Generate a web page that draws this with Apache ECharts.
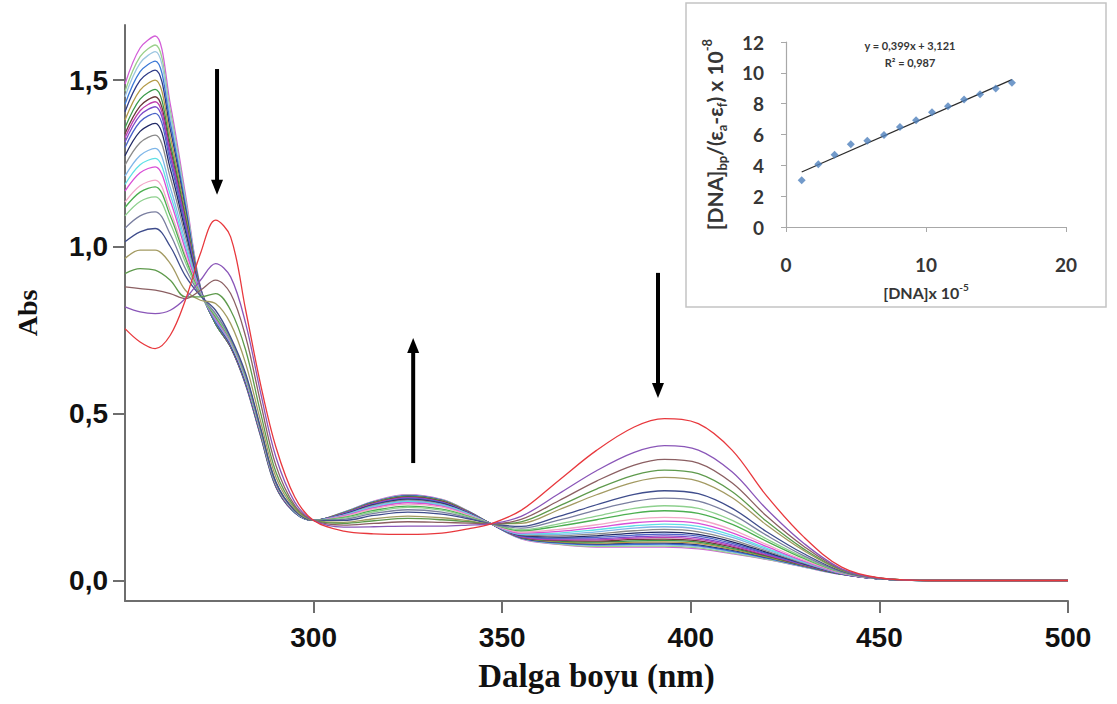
<!DOCTYPE html>
<html>
<head>
<meta charset="utf-8">
<title>UV-Vis titration with DNA</title>
<script src="https://cdn.jsdelivr.net/npm/echarts@6/dist/echarts.min.js"></script>
<style>
  html, body { margin: 0; padding: 0; background: #ffffff; }
  #chart { width: 1117px; height: 704px; }
</style>
</head>
<body>
<div id="chart"></div>
<script>
// Wavelengths (nm) shared by every spectrum
const wavelengths = [250, 254, 258, 262, 266, 270, 274, 278, 282, 286, 290, 295, 300,
  308, 316, 325, 334, 341, 347,
  355, 365, 375, 385, 393, 402, 411, 420, 430, 440, 450, 465, 500];

// Absorbance spectra: first row = free compound, following rows = increasing DNA
const absorbance = [
  [0.755, 0.715, 0.695, 0.735, 0.84, 0.98, 1.08, 1.03, 0.81, 0.585, 0.40, 0.25, 0.18, 0.148, 0.140, 0.138, 0.142, 0.155, 0.17, 0.210, 0.300, 0.390, 0.460, 0.485, 0.470, 0.390, 0.255, 0.130, 0.040, 0.008, 0, 0],
  [0.82, 0.805, 0.80, 0.81, 0.845, 0.90, 0.95, 0.91, 0.77, 0.56, 0.37, 0.235, 0.18, 0.160, 0.161, 0.163, 0.163, 0.166, 0.17, 0.192, 0.260, 0.329, 0.384, 0.404, 0.391, 0.325, 0.215, 0.111, 0.035, 0.007, 0, 0],
  [0.88, 0.875, 0.87, 0.86, 0.845, 0.87, 0.90, 0.86, 0.73, 0.53, 0.345, 0.225, 0.18, 0.166, 0.171, 0.176, 0.174, 0.172, 0.17, 0.183, 0.239, 0.298, 0.346, 0.363, 0.352, 0.292, 0.194, 0.102, 0.033, 0.007, 0, 0],
  [0.92, 0.935, 0.93, 0.90, 0.85, 0.85, 0.86, 0.81, 0.69, 0.50, 0.325, 0.22, 0.18, 0.171, 0.179, 0.186, 0.182, 0.176, 0.17, 0.176, 0.223, 0.274, 0.316, 0.331, 0.320, 0.266, 0.178, 0.094, 0.031, 0.007, 0, 0],
  [0.965, 0.99, 0.99, 0.95, 0.87, 0.84, 0.83, 0.77, 0.65, 0.475, 0.31, 0.215, 0.18, 0.174, 0.185, 0.193, 0.188, 0.179, 0.17, 0.171, 0.212, 0.257, 0.295, 0.309, 0.298, 0.248, 0.167, 0.089, 0.030, 0.007, 0, 0],
  [1.015, 1.045, 1.055, 1.001, 0.913, 0.853, 0.81, 0.73, 0.62, 0.455, 0.295, 0.21, 0.18, 0.180, 0.195, 0.205, 0.199, 0.185, 0.17, 0.162, 0.192, 0.227, 0.258, 0.269, 0.260, 0.216, 0.147, 0.080, 0.028, 0.006, 0, 0],
  [1.056, 1.093, 1.105, 1.038, 0.935, 0.855, 0.80, 0.725, 0.615, 0.452, 0.294, 0.21, 0.18, 0.183, 0.201, 0.212, 0.205, 0.188, 0.17, 0.157, 0.181, 0.211, 0.237, 0.247, 0.238, 0.198, 0.136, 0.074, 0.026, 0.006, 0, 0],
  [1.093, 1.136, 1.15, 1.071, 0.954, 0.857, 0.795, 0.722, 0.612, 0.45, 0.293, 0.209, 0.18, 0.187, 0.206, 0.219, 0.211, 0.191, 0.17, 0.152, 0.170, 0.193, 0.216, 0.224, 0.216, 0.180, 0.125, 0.069, 0.025, 0.006, 0, 0],
  [1.118, 1.164, 1.18, 1.093, 0.967, 0.858, 0.79, 0.72, 0.61, 0.448, 0.292, 0.209, 0.18, 0.189, 0.210, 0.223, 0.214, 0.193, 0.17, 0.149, 0.163, 0.182, 0.202, 0.209, 0.201, 0.168, 0.118, 0.066, 0.024, 0.006, 0, 0],
  [1.134, 1.183, 1.20, 1.108, 0.975, 0.859, 0.79, 0.718, 0.608, 0.447, 0.291, 0.208, 0.18, 0.192, 0.215, 0.229, 0.220, 0.196, 0.17, 0.145, 0.153, 0.167, 0.184, 0.189, 0.182, 0.152, 0.108, 0.061, 0.023, 0.006, 0, 0],
  [1.167, 1.222, 1.24, 1.138, 0.992, 0.861, 0.785, 0.715, 0.605, 0.445, 0.29, 0.208, 0.18, 0.194, 0.218, 0.233, 0.223, 0.197, 0.17, 0.142, 0.147, 0.159, 0.173, 0.178, 0.171, 0.143, 0.102, 0.058, 0.022, 0.006, 0, 0],
  [1.187, 1.246, 1.265, 1.156, 1.003, 0.862, 0.785, 0.713, 0.603, 0.444, 0.29, 0.207, 0.18, 0.195, 0.220, 0.236, 0.225, 0.199, 0.17, 0.140, 0.142, 0.152, 0.164, 0.169, 0.162, 0.135, 0.097, 0.056, 0.022, 0.006, 0, 0],
  [1.212, 1.274, 1.295, 1.178, 1.015, 0.864, 0.78, 0.711, 0.601, 0.443, 0.289, 0.207, 0.18, 0.196, 0.223, 0.238, 0.227, 0.200, 0.17, 0.138, 0.138, 0.146, 0.157, 0.161, 0.154, 0.129, 0.093, 0.054, 0.021, 0.005, 0, 0],
  [1.245, 1.312, 1.335, 1.208, 1.032, 0.866, 0.78, 0.709, 0.599, 0.442, 0.288, 0.207, 0.18, 0.197, 0.225, 0.241, 0.229, 0.201, 0.17, 0.137, 0.134, 0.140, 0.149, 0.153, 0.146, 0.122, 0.089, 0.052, 0.021, 0.005, 0, 0],
  [1.273, 1.346, 1.37, 1.234, 1.047, 0.867, 0.78, 0.707, 0.597, 0.441, 0.287, 0.206, 0.18, 0.198, 0.227, 0.243, 0.231, 0.202, 0.17, 0.135, 0.130, 0.134, 0.142, 0.145, 0.138, 0.116, 0.085, 0.050, 0.021, 0.005, 0, 0],
  [1.298, 1.375, 1.40, 1.256, 1.06, 0.869, 0.775, 0.705, 0.595, 0.44, 0.286, 0.206, 0.18, 0.199, 0.228, 0.245, 0.233, 0.203, 0.17, 0.134, 0.127, 0.129, 0.136, 0.139, 0.133, 0.111, 0.082, 0.049, 0.020, 0.005, 0, 0],
  [1.314, 1.394, 1.42, 1.271, 1.069, 0.87, 0.775, 0.704, 0.594, 0.439, 0.286, 0.206, 0.18, 0.200, 0.229, 0.247, 0.234, 0.203, 0.17, 0.132, 0.125, 0.125, 0.131, 0.134, 0.128, 0.107, 0.080, 0.048, 0.020, 0.005, 0, 0],
  [1.327, 1.408, 1.435, 1.282, 1.075, 0.87, 0.775, 0.703, 0.593, 0.438, 0.285, 0.205, 0.18, 0.201, 0.231, 0.248, 0.235, 0.204, 0.17, 0.131, 0.122, 0.122, 0.127, 0.129, 0.123, 0.103, 0.077, 0.047, 0.020, 0.005, 0, 0],
  [1.339, 1.422, 1.45, 1.293, 1.081, 0.871, 0.775, 0.702, 0.592, 0.437, 0.285, 0.205, 0.18, 0.201, 0.232, 0.250, 0.237, 0.205, 0.17, 0.130, 0.120, 0.118, 0.123, 0.124, 0.119, 0.100, 0.075, 0.046, 0.019, 0.005, 0, 0],
  [1.357, 1.443, 1.472, 1.309, 1.091, 0.872, 0.77, 0.701, 0.591, 0.436, 0.284, 0.205, 0.18, 0.202, 0.233, 0.251, 0.238, 0.205, 0.17, 0.130, 0.118, 0.115, 0.119, 0.120, 0.115, 0.096, 0.073, 0.045, 0.019, 0.005, 0, 0],
  [1.38, 1.47, 1.50, 1.33, 1.103, 0.874, 0.77, 0.70, 0.59, 0.435, 0.283, 0.205, 0.18, 0.203, 0.234, 0.252, 0.239, 0.206, 0.17, 0.129, 0.116, 0.112, 0.115, 0.116, 0.111, 0.093, 0.071, 0.044, 0.019, 0.005, 0, 0],
  [1.405, 1.499, 1.53, 1.352, 1.115, 0.875, 0.77, 0.70, 0.589, 0.434, 0.282, 0.204, 0.18, 0.203, 0.235, 0.253, 0.240, 0.206, 0.17, 0.128, 0.114, 0.109, 0.112, 0.112, 0.107, 0.090, 0.069, 0.043, 0.019, 0.005, 0, 0],
  [1.427, 1.525, 1.557, 1.372, 1.127, 0.876, 0.77, 0.70, 0.588, 0.433, 0.282, 0.204, 0.18, 0.204, 0.236, 0.254, 0.241, 0.207, 0.17, 0.127, 0.112, 0.107, 0.108, 0.109, 0.104, 0.087, 0.067, 0.042, 0.019, 0.005, 0, 0],
  [1.45, 1.551, 1.585, 1.393, 1.139, 0.877, 0.77, 0.70, 0.587, 0.432, 0.281, 0.204, 0.18, 0.204, 0.236, 0.255, 0.241, 0.207, 0.17, 0.126, 0.111, 0.105, 0.106, 0.106, 0.101, 0.085, 0.066, 0.041, 0.018, 0.005, 0, 0],
  [1.466, 1.57, 1.605, 1.408, 1.147, 0.878, 0.77, 0.70, 0.586, 0.431, 0.28, 0.203, 0.18, 0.205, 0.237, 0.256, 0.242, 0.208, 0.17, 0.126, 0.109, 0.102, 0.103, 0.103, 0.098, 0.082, 0.064, 0.041, 0.018, 0.005, 0, 0],
  [1.488, 1.596, 1.632, 1.428, 1.159, 0.88, 0.77, 0.70, 0.585, 0.43, 0.28, 0.203, 0.18, 0.205, 0.238, 0.257, 0.243, 0.208, 0.17, 0.125, 0.108, 0.100, 0.100, 0.100, 0.095, 0.080, 0.063, 0.040, 0.018, 0.005, 0, 0]
];

// One colour per spectrum, same order as the rows above
const spectrumColors = [
  '#e8383d', '#8a56b8', '#8b5f62', '#5e9a4c', '#a39a62', '#3f4d8c', '#7a7fa0',
  '#8ed08e', '#4caf50', '#f2a6c8', '#d94fd6', '#5fe0e6', '#7fb6e8', '#8a8a8a',
  '#222a66', '#4a63c8', '#7d4bc9', '#c03fae', '#6b3a3a', '#3a9a48', '#b49a46',
  '#2e3a86', '#3b78d6', '#9cc6e0', '#9ad08a', '#d35fd8'
];

const absTicks = [0, 0.5, 1.0, 1.5];
const wavelengthTicks = [300, 350, 400, 450, 500];

// Direction arrows: [wavelength, tail Abs, tip Abs]
const shiftArrows = [
  [274.4, 1.533, 1.156],
  [326.4, 0.352, 0.727],
  [391.3, 0.922, 0.547]
];

// Inset: [DNA] vs [DNA]/(εa-εf)
const dnaConc  = [1.12, 2.31, 3.47, 4.63, 5.81, 7.00, 8.14, 9.29, 10.43, 11.57, 12.72, 13.86, 14.98, 16.14];
const dnaRatio = [3.04, 4.07, 4.68, 5.36, 5.59, 5.96, 6.48, 6.93, 7.45, 7.84, 8.27, 8.61, 8.98, 9.35];
const fitSlope = 0.399;
const fitIntercept = 3.121;
const fitR2 = 0.987;
const insetXTicks = [0, 10, 20];

const comma = (v, d) => v.toFixed(d).replace('.', ',');

const chart = echarts.init(document.getElementById('chart'), null, { renderer: 'svg' });

const axisGrey = '#6e6e6e';
const insetGrey = '#a8a8a8';
const insetText = '#363636';
const sansBold = { fontFamily: 'Liberation Sans, Arial, sans-serif', fontWeight: 'bold', fontSize: 28, color: '#111' };
const serifBold = { fontFamily: 'Liberation Serif, Times New Roman, serif', fontWeight: 'bold', color: '#111' };
const insetFont = { fontFamily: 'Lato, Open Sans, sans-serif', fontWeight: 'bold', color: insetText };

// Spectra drawn with the free-compound curve last so it sits on top
const spectraSeries = absorbance.map((row, k) => ({
  type: 'line',
  xAxisIndex: 0,
  yAxisIndex: 0,
  data: wavelengths.map((w, i) => [w, row[i]]),
  symbol: 'none',
  smooth: 0.35,
  lineStyle: { width: 1.3, color: spectrumColors[k] },
  silent: true,
  z: 2
})).reverse();

const fitX0 = dnaConc[0];
const fitX1 = dnaConc[dnaConc.length - 1];

const baseGraphics = [
  {
    type: 'rect', z: 0,
    shape: { x: 686, y: 3, width: 420, height: 304 },
    style: { fill: '#ffffff', stroke: '#c4c4c4', lineWidth: 1.5 }
  },
  {
    type: 'text', z: 10, x: 910, y: 45,
    style: {
      text: 'y = ' + comma(fitSlope, 3) + 'x + ' + comma(fitIntercept, 3),
      fontFamily: 'Lato, Open Sans, sans-serif', fontWeight: 'bold', fontSize: 11,
      fill: insetText, align: 'center', verticalAlign: 'middle'
    }
  },
  {
    type: 'text', z: 10, x: 910, y: 62,
    style: {
      text: 'R² = ' + comma(fitR2, 3),
      fontFamily: 'Lato, Open Sans, sans-serif', fontWeight: 'bold', fontSize: 11,
      fill: insetText, align: 'center', verticalAlign: 'middle'
    }
  }
];

const option = {
  backgroundColor: '#ffffff',
  animation: false,
  grid: [
    { left: 125, top: 25, right: 49, bottom: 103, outerBoundsMode: 'none' },
    { left: 786, top: 42, right: 51, bottom: 477, outerBoundsMode: 'none' }
  ],
  xAxis: [
    {
      type: 'value', gridIndex: 0, min: 250, max: 500, interval: 50,
      name: 'Dalga boyu (nm)', nameLocation: 'middle', nameGap: 58,
      nameTextStyle: Object.assign({ fontSize: 33 }, serifBold),
      axisLine: { show: true, onZero: false, lineStyle: { color: axisGrey, width: 2 } },
      axisTick: { show: true, inside: false, length: 12, customValues: wavelengthTicks, lineStyle: { color: axisGrey, width: 2 } },
      axisLabel: Object.assign({ customValues: wavelengthTicks, margin: 22 }, sansBold),
      splitLine: { show: false }
    },
    {
      type: 'value', gridIndex: 1, min: 0, max: 20, interval: 10,
      name: '[DNA]x 10{sup|-5}', nameLocation: 'middle', nameGap: 55,
      nameTextStyle: Object.assign({ fontSize: 16, lineHeight: 20, rich: { sup: Object.assign({ fontSize: 10, verticalAlign: 'top', lineHeight: 20 }, insetFont) } }, insetFont),
      axisLine: { show: true, onZero: false, lineStyle: { color: insetGrey, width: 1.2 } },
      axisTick: { show: true, inside: false, length: 5, customValues: insetXTicks, lineStyle: { color: insetGrey } },
      axisLabel: Object.assign({ fontSize: 19, margin: 28 }, insetFont),
      splitLine: { show: false }
    }
  ],
  yAxis: [
    {
      type: 'value', gridIndex: 0, min: -0.0615, max: 1.665,
      name: 'Abs', nameLocation: 'middle', nameRotate: 90, nameGap: 84,
      nameTextStyle: Object.assign({ fontSize: 28 }, serifBold),
      axisLine: { show: true, onZero: false, lineStyle: { color: axisGrey, width: 2 } },
      axisTick: { show: true, inside: false, length: 12, customValues: absTicks, lineStyle: { color: axisGrey, width: 2 } },
      axisLabel: Object.assign({ customValues: absTicks, margin: 17, formatter: v => comma(v, 1) }, sansBold),
      splitLine: { show: false }
    },
    {
      type: 'value', gridIndex: 1, min: 0, max: 12, interval: 2,
      name: '[DNA]{sub|bp}/(ε{sub|a}-ε{sub|f}) x 10{sup|-8}',
      nameLocation: 'middle', nameRotate: 90, nameGap: 58,
      nameTextStyle: Object.assign({
        fontSize: 21, lineHeight: 28,
        rich: {
          sub: Object.assign({ fontSize: 13, verticalAlign: 'bottom', lineHeight: 28 }, insetFont),
          sup: Object.assign({ fontSize: 13, verticalAlign: 'top', lineHeight: 28 }, insetFont)
        }
      }, insetFont),
      axisLine: { show: true, onZero: false, lineStyle: { color: insetGrey, width: 1.2 } },
      axisTick: { show: true, inside: false, length: 5, lineStyle: { color: insetGrey } },
      axisLabel: Object.assign({ fontSize: 19, margin: 22 }, insetFont),
      splitLine: { show: false }
    }
  ],
  graphic: baseGraphics,
  series: spectraSeries.concat([
    {
      type: 'line', xAxisIndex: 1, yAxisIndex: 1,
      data: [[fitX0, fitSlope * fitX0 + fitIntercept], [fitX1, fitSlope * fitX1 + fitIntercept]],
      symbol: 'none', silent: true,
      lineStyle: { color: '#2b2b2b', width: 1.3 }, z: 3
    },
    {
      type: 'scatter', xAxisIndex: 1, yAxisIndex: 1,
      data: dnaConc.map((x, i) => [x, dnaRatio[i]]),
      symbol: 'diamond', symbolSize: 8, silent: true,
      itemStyle: { color: '#4f81bd' }, z: 4
    }
  ])
};

chart.setOption(option);

// Arrows placed through the main grid's own scales
const headLen = 15;
const headHalf = 6;
const arrowGraphics = [];
shiftArrows.forEach(([w, a0, a1]) => {
  const p0 = chart.convertToPixel({ gridIndex: 0 }, [w, a0]);
  const p1 = chart.convertToPixel({ gridIndex: 0 }, [w, a1]);
  const dir = Math.sign(p1[1] - p0[1]);
  const baseY = p1[1] - dir * headLen;
  arrowGraphics.push({
    type: 'line', z: 20,
    shape: { x1: p0[0], y1: p0[1], x2: p1[0], y2: baseY + dir * 2 },
    style: { stroke: '#000', lineWidth: 4 }
  });
  arrowGraphics.push({
    type: 'polygon', z: 20,
    shape: { points: [[p1[0] - headHalf, baseY], [p1[0] + headHalf, baseY], [p1[0], p1[1]]] },
    style: { fill: '#000' }
  });
});

option.graphic = baseGraphics.concat(arrowGraphics);
chart.setOption(option, true);
</script>
</body>
</html>
